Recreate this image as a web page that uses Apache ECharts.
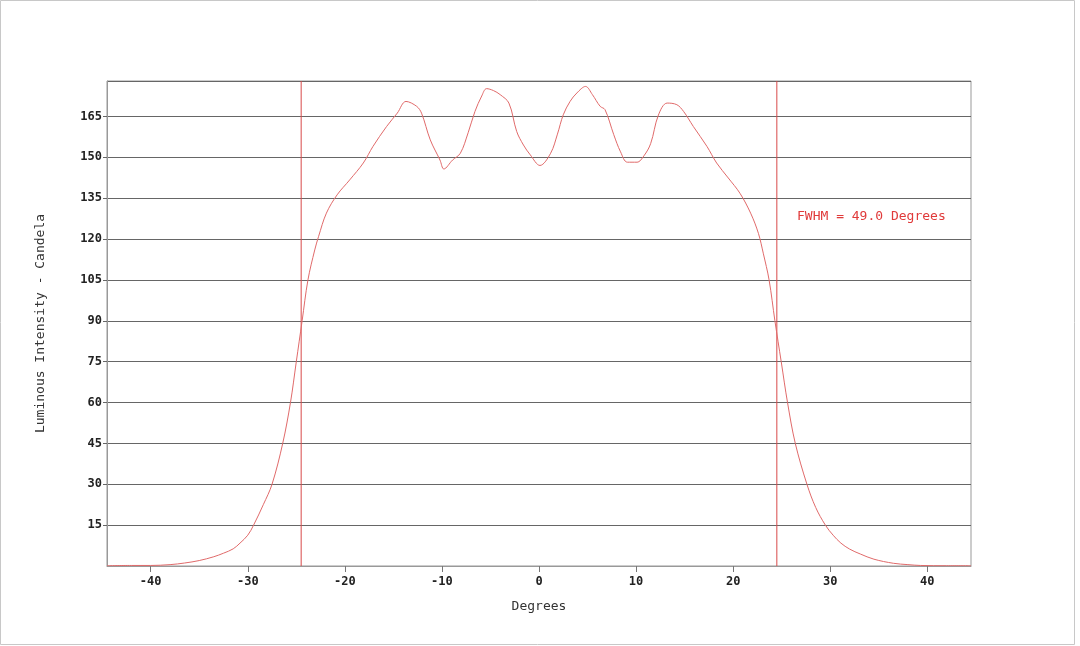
<!DOCTYPE html>
<html lang="en">
<head>
    <meta charset="UTF-8">
    <title>Luminous Intensity</title>
    <script src="https://cdn.jsdelivr.net/npm/echarts@6/dist/echarts.min.js"></script>
    <style>
        html,
        body,
        #container {
            width: 100%;
            height: 100%;
            margin: 0;
            padding: 0;
            background: #fff;
        }
    </style>
</head>
<body>
    <div id="container"></div>
    <script>
        // angle (degrees) and intensity (candela)
        var degrees = [
            -44.5, -42, -40, -38, -36.5, -35, -33.5, -32.5, -31.5, -30.8,
            -30, -29.4, -28.4, -27.5, -26.4, -25.6, -25.0, -24.4, -23.8, -23.1,
            -22.7, -21.9, -20.8, -19.5, -18.1, -17.1, -15.7, -14.6, -13.7, -12.6,
            -12.1, -11.2, -10.2, -9.8, -8.9, -8.1, -7.3, -6.6, -5.9, -5.4,
            -4.7, -4.0, -3.1, -2.3, -1.6, -0.9, 0.1, 1.2, 1.9, 2.5,
            3.2, 3.9, 4.8, 5.5, 6.3, 6.8, 7.7, 8.4, 9.1, 10.1,
            10.8, 11.5, 12.3, 13.2, 14.2, 14.9, 15.9, 17.3, 18.3, 19.5,
            20.7, 21.8, 22.6, 23.1, 23.7, 24.3, 24.95, 25.6, 26.4, 27.6,
            28.5, 29.5, 30.3, 31.1, 32, 33.1, 34.5, 36.5, 38, 39.3,
            42, 44.5
        ];
        var candela = [
            0.1, 0.2, 0.2, 0.5, 1.1, 2.0, 3.4, 4.7, 6.3, 8.4,
            11.3, 15, 22.5, 30, 45, 60, 75, 90, 105, 116,
            121, 129.5, 136.2, 141.7, 147.9, 154, 161.3, 166.2, 170.5, 168.7,
            166.2, 156.4, 149, 145.7, 149, 151.5, 159, 166.8, 172.5, 175.2,
            174.5, 173, 169.9, 159.5, 154.5, 150.9, 147, 151.5, 158.5, 165.6,
            170.5, 173.6, 176, 173, 168.7, 167.5, 158.3, 152, 148.2, 148.2,
            150.5, 155, 165.5, 169.9, 169.3, 166.8, 161.3, 154, 147.9, 142.4,
            136.8, 129.5, 122.1, 114.8, 105, 90, 75, 60, 45, 30,
            21.5, 15, 11.3, 8.4, 6.2, 4.4, 2.5, 1.0, 0.5, 0.2,
            0.1, 0.1
        ];
        var xTicks = [-40, -30, -20, -10, 0, 10, 20, 30, 40];
        var fwhmEdges = [-24.5, 24.5];
        var fwhmText = 'FWHM = 49.0 Degrees';

        var mono = '"DejaVu Sans Mono", "Liberation Mono", monospace';
        var yMax = 178;

        var points = degrees.map(function (d, i) {
            return [d, candela[i]];
        });

        // the two FWHM edges, drawn as vertical lines through the value scale
        var edgeSeries = fwhmEdges.map(function (v) {
            return {
                type: 'line',
                data: [[v, 0], [v, yMax]],
                showSymbol: false,
                silent: true,
                lineStyle: { color: '#d84a4a', width: 1 },
                z: 3
            };
        });

        var chart = echarts.init(document.getElementById('container'));

        chart.setOption({
            animation: false,
            backgroundColor: '#fff',
            grid: {
                left: 107,
                right: 109,
                top: 81,
                bottom: 80,
                show: true,
                borderColor: '#999',
                borderWidth: 1
            },
            xAxis: {
                type: 'value',
                min: -44.5,
                max: 44.5,
                name: 'Degrees',
                nameLocation: 'middle',
                nameGap: 34,
                nameTextStyle: { fontFamily: mono, fontSize: 13, color: '#333' },
                axisLine: { show: true, onZero: false, lineStyle: { color: '#999' } },
                axisTick: {
                    show: true,
                    length: 6,
                    customValues: xTicks,
                    lineStyle: { color: '#777' }
                },
                axisLabel: {
                    customValues: xTicks,
                    margin: 10,
                    fontFamily: mono,
                    fontSize: 12,
                    fontWeight: 'bold',
                    color: '#222'
                },
                splitLine: { show: false }
            },
            yAxis: {
                type: 'value',
                min: 0,
                max: yMax,
                interval: 15,
                name: 'Luminous Intensity - Candela',
                nameLocation: 'middle',
                nameGap: 60,
                nameTextStyle: { fontFamily: mono, fontSize: 13, color: '#333' },
                axisLine: { show: true, onZero: false, lineStyle: { color: '#999' } },
                axisTick: { show: true, length: 4, lineStyle: { color: '#666' } },
                axisLabel: {
                    showMinLabel: false,
                    showMaxLabel: false,
                    margin: 5,
                    fontFamily: mono,
                    fontSize: 12,
                    fontWeight: 'bold',
                    color: '#222'
                },
                splitLine: { show: true, lineStyle: { color: '#666', width: 1 } }
            },
            graphic: [{
                type: 'rect',
                silent: true,
                shape: { x: 0.5, y: 0.5, width: 1074, height: 644 },
                style: { fill: null, stroke: '#c8c8c8', lineWidth: 1 }
            }, {
                type: 'text',
                left: 797,
                top: 210,
                style: {
                    text: fwhmText,
                    fill: '#e03a3a',
                    font: '13px ' + mono
                }
            }],
            series: [{
                type: 'line',
                data: points,
                smooth: 0.35,
                showSymbol: false,
                lineStyle: { color: '#e06a6a', width: 1 },
                z: 4
            }].concat(edgeSeries)
        });
    </script>
</body>
</html>
